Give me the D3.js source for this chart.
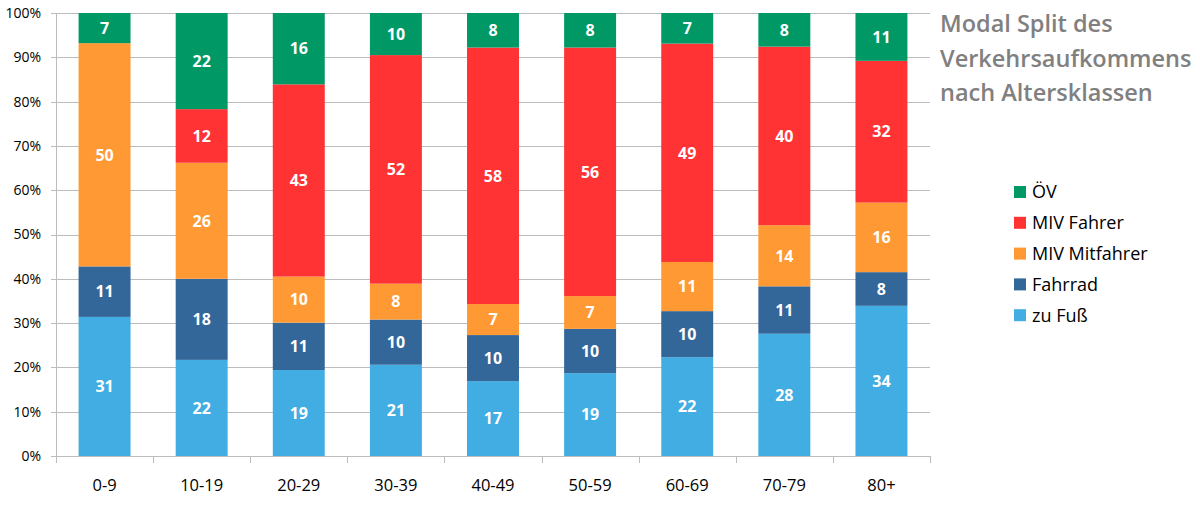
<!DOCTYPE html>
<html>
<head>
<meta charset="utf-8">
<script src="https://cdn.jsdelivr.net/npm/d3@7"></script>
<style>
  body { margin: 0; background: #fff; }
  svg { font-family: "Open Sans", "DejaVu Sans", sans-serif; }
</style>
</head>
<body>
<div id="chart"></div>
<script>
// age classes on the x axis
var ageClasses = ["0-9", "10-19", "20-29", "30-39", "40-49", "50-59", "60-69", "70-79", "80+"];

// shares in percent (labels are rounded)
var zuFuss      = [31.4, 21.7, 19.4, 20.6, 16.9, 18.7, 22.3, 27.6, 33.9];
var fahrrad     = [11.4, 18.3, 10.7, 10.2, 10.4, 10.0, 10.4, 10.7,  7.6];
var mivMitfahrer= [50.4, 26.2, 10.4,  8.1,  7.0,  7.4, 11.1, 13.8, 15.7];
var mivFahrer   = [ 0.0, 12.1, 43.4, 51.6, 57.9, 56.1, 49.3, 40.3, 32.0];
var oev         = [ 6.8, 21.7, 16.1,  9.5,  7.8,  7.8,  6.9,  7.6, 10.8];

var seriesNames = ["zu Fuß", "Fahrrad", "MIV Mitfahrer", "MIV Fahrer", "ÖV"];
var seriesColors = ["#41ade3", "#336699", "#ff9933", "#ff3333", "#009966"];
var yTicks = [0, 10, 20, 30, 40, 50, 60, 70, 80, 90, 100];
var titleLines = ["Modal Split des", "Verkehrsaufkommens", "nach Altersklassen"];

// build rows for d3.stack
var seriesValues = [zuFuss, fahrrad, mivMitfahrer, mivFahrer, oev];
var rows = ageClasses.map(function(a, i) {
    var r = { age: a };
    seriesNames.forEach(function(s, k) { r[s] = seriesValues[k][i]; });
    return r;
});

var W = 1200, H = 514;
var margin = { top: 13, right: 270, bottom: 58, left: 56 },
    width = W - margin.left - margin.right,
    height = H - margin.top - margin.bottom;

var svg = d3.select("#chart").append("svg")
    .attr("width", W)
    .attr("height", H);

var g = svg.append("g")
    .attr("transform", "translate(" + margin.left + "," + margin.top + ")");

var x = d3.scaleBand()
    .domain(ageClasses)
    .range([0, width])
    .paddingInner(0.465)
    .paddingOuter(0.2325);

var y = d3.scaleLinear()
    .domain([0, 100])
    .range([height, 0]);

var color = d3.scaleOrdinal().domain(seriesNames).range(seriesColors);

// gridlines
g.append("g")
    .selectAll("line")
    .data(yTicks)
    .enter().append("line")
    .attr("x1", -5)
    .attr("x2", width)
    .attr("y1", function(d) { return Math.round(y(d)) + 0.5; })
    .attr("y2", function(d) { return Math.round(y(d)) + 0.5; })
    .attr("stroke", "#bcbcbc")
    .attr("stroke-width", 1);

// y axis labels
g.append("g")
    .selectAll("text")
    .data(yTicks)
    .enter().append("text")
    .attr("x", -15)
    .attr("y", function(d) { return y(d); })
    .attr("dy", "0.35em")
    .attr("text-anchor", "end")
    .style("font-size", "14px")
    .attr("fill", "#000")
    .text(function(d) { return d + "%"; });

// y axis line
g.append("line")
    .attr("x1", 0.5).attr("x2", 0.5)
    .attr("y1", 0).attr("y2", height)
    .attr("stroke", "#bcbcbc");

// stacked bars
var stack = d3.stack().keys(seriesNames);
var layers = stack(rows);

var layer = g.selectAll(".layer")
    .data(layers)
    .enter().append("g")
    .attr("class", "layer")
    .attr("fill", function(d) { return color(d.key); });

layer.selectAll("rect")
    .data(function(d) { return d; })
    .enter().append("rect")
    .attr("x", function(d) { return x(d.data.age); })
    .attr("y", function(d) { return y(d[1]); })
    .attr("width", x.bandwidth())
    .attr("height", function(d) { return y(d[0]) - y(d[1]); });

// value labels
layer.selectAll("text")
    .data(function(d) { return d.filter(function(p) { return p[1] - p[0] > 0; }); })
    .enter().append("text")
    .attr("x", function(d) { return x(d.data.age) + x.bandwidth() / 2; })
    .attr("y", function(d) { return (y(d[0]) + y(d[1])) / 2; })
    .attr("dy", "0.36em")
    .attr("text-anchor", "middle")
    .attr("fill", "#fff")
    .style("font-size", "16px")
    .style("font-weight", "bold")
    .text(function(d) { return d3.format(".0f")(d[1] - d[0]); });

// x axis
var xaxis = g.append("g")
    .attr("transform", "translate(0," + height + ")");
xaxis.append("line")
    .attr("x1", 0).attr("x2", width)
    .attr("y1", 0.5).attr("y2", 0.5)
    .attr("stroke", "#bcbcbc");
var bounds = d3.range(ageClasses.length + 1).map(function(i) { return i * x.step(); });
xaxis.selectAll(".tick")
    .data(bounds)
    .enter().append("line")
    .attr("x1", function(d) { return Math.round(d) + 0.5; })
    .attr("x2", function(d) { return Math.round(d) + 0.5; })
    .attr("y1", 0).attr("y2", 7)
    .attr("stroke", "#bcbcbc");
xaxis.selectAll("text")
    .data(ageClasses)
    .enter().append("text")
    .attr("x", function(d) { return x(d) + x.bandwidth() / 2; })
    .attr("y", 29)
    .attr("dy", "0.35em")
    .attr("text-anchor", "middle")
    .style("font-size", "16.5px")
    .attr("fill", "#000")
    .text(function(d) { return d; });

// title
svg.append("g")
    .selectAll("text")
    .data(titleLines)
    .enter().append("text")
    .attr("x", 940)
    .attr("y", function(d, i) { return 32 + i * 34.5; })
    .attr("fill", "#808080")
    .style("font-size", "23.5px")
    .style("font-weight", "600")
    .text(function(d) { return d; });

// legend (top entry is ÖV)
var legendItems = seriesNames.slice().reverse();
var legend = svg.append("g")
    .attr("transform", "translate(1014,192)");
var li = legend.selectAll("g")
    .data(legendItems)
    .enter().append("g")
    .attr("transform", function(d, i) { return "translate(0," + (i * 30.8) + ")"; });
li.append("rect")
    .attr("x", 0).attr("y", -6)
    .attr("width", 12).attr("height", 12)
    .attr("fill", function(d) { return color(d); });
li.append("text")
    .attr("x", 18)
    .attr("y", 0)
    .attr("dy", "0.35em")
    .style("font-size", "18px")
    .attr("fill", "#000")
    .text(function(d) { return d; });
</script>
</body>
</html>
